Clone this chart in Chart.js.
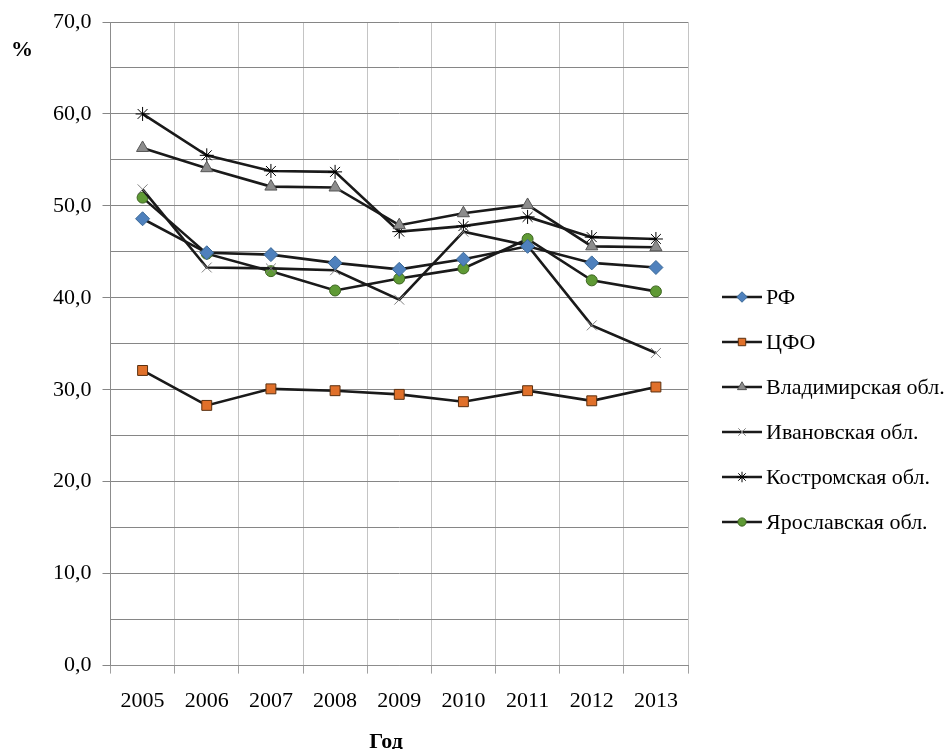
<!DOCTYPE html>
<html>
<head>
<meta charset="utf-8">
<script src="https://cdn.jsdelivr.net/npm/chart.js@4/dist/chart.umd.min.js"></script>
<style>
  html, body { margin: 0; padding: 0; background: #fff; }
  #wrap { width: 948px; height: 749px; }
</style>
</head>
<body>
<div id="wrap"><canvas id="myChart" width="948" height="749"></canvas></div>
<script>
var years = ['2005', '2006', '2007', '2008', '2009', '2010', '2011', '2012', '2013'];
var rf = [48.6, 44.9, 44.7, 43.8, 43.1, 44.2, 45.6, 43.8, 43.3];
var cfo = [32.1, 28.3, 30.1, 29.9, 29.5, 28.7, 29.9, 28.8, 30.3];
var vladimir = [56.3, 54.1, 52.1, 52.0, 47.9, 49.2, 50.1, 45.6, 45.5];
var ivanovo = [51.8, 43.3, 43.2, 43.0, 39.8, 47.2, 45.7, 37.0, 34.0];
var kostroma = [60.0, 55.5, 53.8, 53.7, 47.2, 47.8, 48.8, 46.6, 46.4];
var yaroslavl = [50.9, 44.8, 42.9, 40.8, 42.1, 43.2, 46.4, 41.9, 40.7];
var seriesNames = ['РФ', 'ЦФО', 'Владимирская обл.', 'Ивановская обл.', 'Костромская обл.', 'Ярославская обл.'];

var FONT = '"Liberation Serif", "Times New Roman", serif';

function series(label, data, style, fill, border, radius) {
    return {
        label: label,
        data: data,
        borderColor: '#1a1a1a',
        borderWidth: 2.6,
        tension: 0,
        pointStyle: style,
        pointRadius: radius,
        pointBackgroundColor: fill,
        pointBorderColor: border,
        pointBorderWidth: 1
    };
}

// legend and axis titles drawn at fixed places, like the Excel ones
var sideLegend = {
    id: 'sideLegend',
    afterDraw: function(chart) {
        var c = chart.ctx;
        var x0 = 722, y0 = 297, step = 45;
        c.save();
        chart.data.datasets.forEach(function(ds, i) {
            var y = y0 + i * step;
            c.strokeStyle = '#1a1a1a';
            c.lineWidth = 2.6;
            c.beginPath();
            c.moveTo(x0, y);
            c.lineTo(x0 + 40, y);
            c.stroke();
            c.fillStyle = ds.pointBackgroundColor;
            c.strokeStyle = ds.pointBorderColor;
            c.lineWidth = 1;
            Chart.helpers.drawPoint(c, {pointStyle: ds.pointStyle, radius: ds.pointRadius * 0.75, rotation: 0, borderWidth: 1}, x0 + 20, y);
            c.fillStyle = '#000';
            c.font = '22px ' + FONT;
            c.textBaseline = 'middle';
            c.textAlign = 'left';
            c.fillText(ds.label, x0 + 44, y + 1);
        });
        c.font = 'bold 22px ' + FONT;
        c.textAlign = 'center';
        c.fillText('%', 22, 50);
        c.fillText('Год', 386, 742);
        c.restore();
    }
};

var ctx = document.getElementById('myChart').getContext('2d');
var myChart = new Chart(ctx, {
    type: 'line',
    data: {
        labels: years,
        datasets: [
            series(seriesNames[0], rf, 'rectRot', '#4f81bd', '#3a6896', 7),
            series(seriesNames[1], cfo, 'rect', '#e0702a', '#5a3010', 7),
            series(seriesNames[2], vladimir, 'triangle', '#8c8c8c', '#555555', 7),
            series(seriesNames[3], ivanovo, 'crossRot', '#808080', '#808080', 7),
            series(seriesNames[4], kostroma, 'star', '#000000', '#000000', 7),
            series(seriesNames[5], yaroslavl, 'circle', '#5f9a35', '#3c6420', 5.5)
        ]
    },
    options: {
        responsive: false,
        animation: false,
        layout: {
            padding: {left: 42, right: 260, top: 10, bottom: 21}
        },
        plugins: {
            legend: {display: false},
            tooltip: {enabled: false}
        },
        scales: {
            x: {
                offset: true,
                grid: {
                    offset: true,
                    color: '#c4c4c4',
                    tickColor: '#a0a0a0',
                    tickLength: 8
                },
                border: {color: '#8c8c8c'},
                ticks: {
                    color: '#000',
                    font: {family: FONT, size: 22},
                    padding: 14,
                    maxRotation: 0
                }
            },
            y: {
                min: 0,
                max: 70,
                ticks: {
                    stepSize: 5,
                    color: '#000',
                    font: {family: FONT, size: 22, lineHeight: 1.0},
                    padding: 11,
                    callback: function(v) {
                        return v % 10 === 0 ? v.toFixed(1).replace('.', ',') : '';
                    }
                },
                grid: {
                    color: '#868686',
                    tickLength: 8,
                    tickColor: function(c) {
                        return c.tick && c.tick.value % 10 === 0 ? '#868686' : 'rgba(0,0,0,0)';
                    }
                },
                border: {color: '#8c8c8c'}
            }
        }
    },
    plugins: [sideLegend]
});
</script>
</body>
</html>
